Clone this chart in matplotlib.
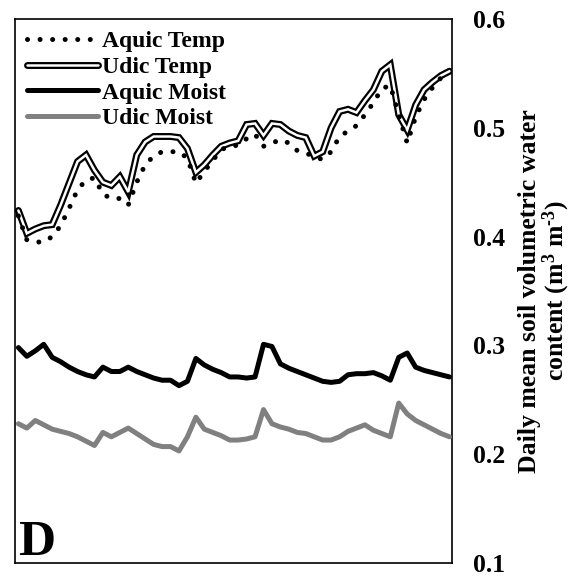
# coding=utf-8
import numpy as np
import matplotlib
matplotlib.use('Agg')
import matplotlib.pyplot as plt
import matplotlib.patheffects as pe

# daily means, panel D
days = np.arange(52)

aquic_temp = [0.419, 0.397, 0.395, 0.395, 0.400, 0.410, 0.426, 0.443, 0.452, 0.454,
              0.439, 0.435, 0.435, 0.429, 0.450, 0.466, 0.474, 0.478, 0.478, 0.478,
              0.472, 0.449, 0.460, 0.470, 0.480, 0.483, 0.484, 0.490, 0.494, 0.483,
              0.486, 0.489, 0.486, 0.479, 0.477, 0.473, 0.471, 0.478, 0.492, 0.497,
              0.502, 0.512, 0.523, 0.536, 0.539, 0.512, 0.486, 0.510, 0.526, 0.537,
              0.546, 0.552]
udic_temp = [0.424, 0.403, 0.407, 0.410, 0.411, 0.429, 0.449, 0.469, 0.475, 0.461,
             0.450, 0.447, 0.455, 0.441, 0.475, 0.487, 0.492, 0.492, 0.492, 0.491,
             0.481, 0.459, 0.466, 0.475, 0.483, 0.486, 0.488, 0.503, 0.504, 0.493,
             0.504, 0.503, 0.497, 0.493, 0.491, 0.474, 0.478, 0.500, 0.515, 0.517,
             0.514, 0.525, 0.535, 0.552, 0.558, 0.512, 0.498, 0.521, 0.535, 0.542,
             0.548, 0.552]
aquic_moist = [0.298, 0.290, 0.295, 0.301, 0.289, 0.285, 0.280, 0.276, 0.273, 0.271,
               0.280, 0.276, 0.276, 0.280, 0.276, 0.273, 0.270, 0.268, 0.268, 0.263,
               0.267, 0.288, 0.282, 0.278, 0.275, 0.271, 0.271, 0.270, 0.271, 0.301,
               0.299, 0.283, 0.279, 0.276, 0.273, 0.270, 0.267, 0.266, 0.267, 0.273,
               0.274, 0.274, 0.275, 0.272, 0.268, 0.289, 0.293, 0.280, 0.277, 0.275,
               0.273, 0.271]
udic_moist = [0.228, 0.224, 0.231, 0.227, 0.223, 0.221, 0.219, 0.216, 0.212, 0.208,
              0.220, 0.216, 0.220, 0.224, 0.219, 0.214, 0.209, 0.207, 0.207, 0.203,
              0.216, 0.234, 0.223, 0.220, 0.217, 0.213, 0.213, 0.214, 0.216, 0.241,
              0.228, 0.225, 0.223, 0.220, 0.219, 0.216, 0.213, 0.213, 0.216, 0.221,
              0.224, 0.227, 0.222, 0.219, 0.216, 0.247, 0.237, 0.231, 0.227, 0.223,
              0.219, 0.216]

yticks = [0.1, 0.2, 0.3, 0.4, 0.5, 0.6]

plt.rcParams['font.family'] = ['Liberation Serif', 'DejaVu Serif']
plt.rcParams['font.weight'] = 'bold'
plt.rcParams['axes.labelweight'] = 'bold'
plt.rcParams['mathtext.fontset'] = 'custom'
plt.rcParams['mathtext.rm'] = 'Liberation Serif:bold'
plt.rcParams['mathtext.bf'] = 'Liberation Serif:bold'
plt.rcParams['mathtext.default'] = 'bf'

fig = plt.figure(figsize=(5.81, 5.77), dpi=100)
ax = fig.add_axes([15/581, 1-563/577, 437/581, 544/577])

# double line: white core with black outline
ax.plot(days, udic_temp, color='white', lw=1.8, label='Udic Temp', zorder=3,
        solid_capstyle='round', solid_joinstyle='miter',
        path_effects=[pe.Stroke(linewidth=5.0, foreground='black'), pe.Normal()])
ax.plot(days, aquic_temp, color='black', lw=3.6, linestyle=(0, (0.01, 2.5)),
        dash_capstyle='round', label='Aquic Temp', zorder=4)
ax.plot(days, aquic_moist, color='black', lw=3.6, label='Aquic Moist', zorder=3,
        solid_capstyle='round')
ax.plot(days, udic_moist, color='#808080', lw=3.6, label='Udic Moist', zorder=3,
        solid_capstyle='round')

ax.set_xlim(-0.4, 51.3)
ax.set_ylim(0.1, 0.6)
ax.set_xticks([])
ax.yaxis.tick_right()
ax.set_yticks(yticks)
ax.set_yticklabels(['%.1f' % t for t in yticks])
ax.tick_params(axis='y', length=0, pad=15, labelsize=18.5)
for s in ax.spines.values():
    s.set_linewidth(1.2)

ax.yaxis.set_label_position('right')
ax.set_ylabel('Daily mean soil volumetric water\ncontent (m$^{3}$ m$^{\\text{-}3}$)',
              fontsize=18.5, fontweight='bold', rotation=90, labelpad=9,
              linespacing=1.0)

h, l = ax.get_legend_handles_labels()
order = [1, 0, 2, 3]
ax.legend([h[i] for i in order], [l[i] for i in order], loc='upper left',
          bbox_to_anchor=(0.027, 0.978), frameon=False, fontsize=17,
          borderpad=0, borderaxespad=0, handlelength=3.0, handletextpad=0.2,
          labelspacing=0.17)

ax.text(0.008, 0.015, 'D', transform=ax.transAxes, fontsize=37,
        fontweight='bold', ha='left', va='baseline')

plt.savefig('out.png', dpi=100)
